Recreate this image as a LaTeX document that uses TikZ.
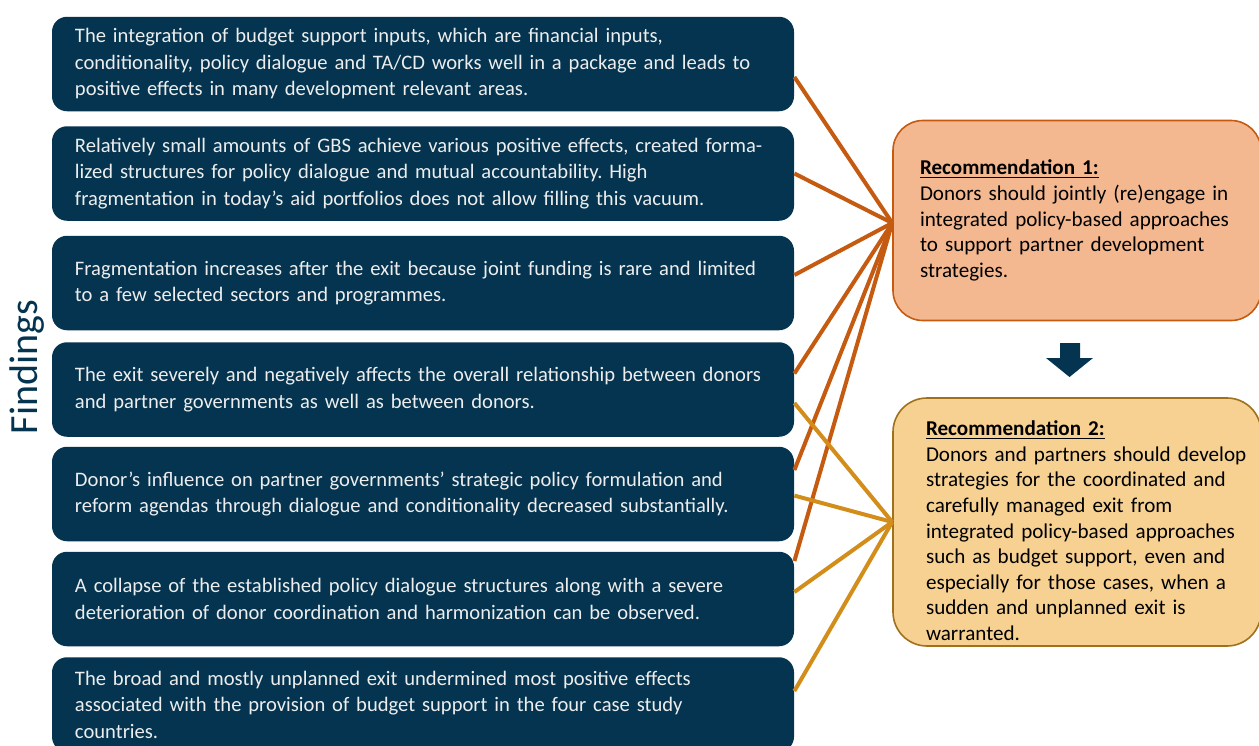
\documentclass[tikz,border=0pt]{standalone}
\usepackage{fontspec}
\setmainfont{Carlito}
\usepackage{xcolor}
\usetikzlibrary{positioning}
\frenchspacing

\definecolor{navy}{RGB}{4,52,79}
\definecolor{rustline}{RGB}{197,90,17}
\definecolor{peach}{RGB}{244,184,145}
\definecolor{goldline}{RGB}{210,141,26}
\definecolor{sand}{RGB}{246,209,146}
\definecolor{sandedge}{RGB}{160,113,28}

\tikzset{
  finding/.style={rectangle, rounded corners=7.5pt, fill=navy, text=white!93!black,
    minimum width=371pt, minimum height=47.25pt, text width=348pt, inner xsep=11.5pt,
    align=left, font=\fontsize{10.3}{13.25}\selectfont},
  recbox/.style={rectangle, rounded corners=15pt, line width=0.8pt, text=black,
    minimum width=184pt, align=left, font=\fontsize{10.55}{12.8}\selectfont},
  linkone/.style={rustline, line width=2pt},
  linktwo/.style={goldline, line width=2pt}
}

\begin{document}
\begin{tikzpicture}[x=0.5pt, y=-0.5pt]
\useasboundingbox (0,0) rectangle (1259,745);
% Findings column
\node[font=\fontsize{20}{20}\selectfont, text=navy, rotate=90] (lbl) at (27,367) {Findings};
\node[finding] (f1) at (423,64) {The integration of budget support inputs, which are financial inputs,\\
  conditionality, policy dialogue and TA/CD works well in a package and leads to\\
  positive effects in many development relevant areas.};
\node[finding] (f2) at (423,173.5) {Relatively small amounts of GBS achieve various positive effects, created forma-\\
  lized structures for policy dialogue and mutual accountability. High\\
  fragmentation in today’s aid portfolios does not allow filling this vacuum.};
\node[finding] (f3) at (423,283) {Fragmentation increases after the exit because joint funding is rare and limited\\
  to a few selected sectors and programmes.};
\node[finding] (f4) at (423,389.5) {The exit severely and negatively affects the overall relationship between donors\\
  and partner governments as well as between donors.};
\node[finding] (f5) at (423,494) {Donor’s influence on partner governments’ strategic policy formulation and\\
  reform agendas through dialogue and conditionality decreased substantially.};
\node[finding] (f6) at (423,599) {A collapse of the established policy dialogue structures along with a severe\\
  deterioration of donor coordination and harmonization can be observed.};
\node[finding] (f7) at (423,704.5) {The broad and mostly unplanned exit undermined most positive effects\\
  associated with the provision of budget support in the four case study\\
  countries.};
% Recommendations
\node[recbox, draw=rustline, fill=peach, minimum height=100pt, text width=157pt, inner xsep=13.5pt]
  (rec1) at (1077,220.5) {\underline{\textbf{Recommendation 1:}}\\
  Donors should jointly (re)engage in\\
  integrated policy-based approaches\\
  to support partner development\\
  strategies.};
\node[recbox, draw=sandedge, fill=sand, rounded corners=17pt, minimum height=124pt, text width=168pt, inner xsep=8pt]
  (rec2) at (1077,522) {\hspace*{8.5pt}\raisebox{-5.5pt}[\height][\depth]{\begin{tabular}{@{}l@{}}
  \underline{\textbf{Recommendation 2:}}\\
  Donors and partners should develop\\
  strategies for the coordinated and\\
  carefully managed exit from\\
  integrated policy-based approaches\\
  such as budget support, even and\\
  especially for those cases, when a\\
  sudden and unplanned exit is\\
  warranted.
  \end{tabular}}};
% Block arrow between the recommendations
\fill[navy] (1060,343) -- (1080,343) -- (1080,358) -- (1093,358) -- (1069.5,377)
  -- (1046,358) -- (1060,358) -- cycle;
% Connectors
\foreach \f/\dy in {f1/-6.5, f2/0, f3/4, f4/8, f5/12, f6/19}
  \draw[linkone] ([yshift=\dy pt]\f.east) -- ([yshift=-1.25pt]rec1.west);
\foreach \f/\dy in {f4/-6.75, f5/-0.8, f6/3.5, f7/6.75}
  \draw[linktwo] ([yshift=\dy pt]\f.east) -- (rec2.west);
\end{tikzpicture}
\end{document}
